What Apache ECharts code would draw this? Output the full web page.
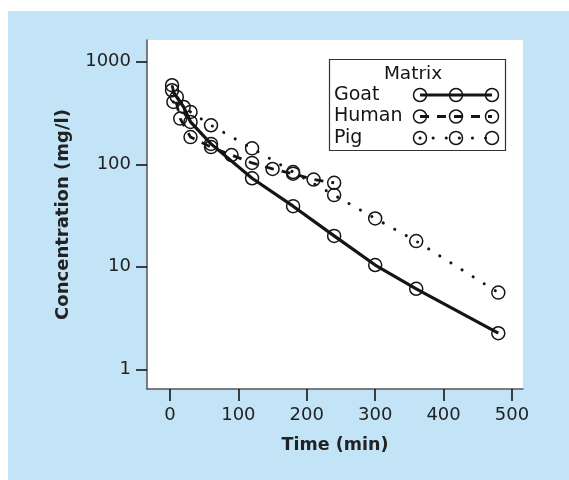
<!DOCTYPE html>
<html><head><meta charset="utf-8">
<script src="https://cdn.jsdelivr.net/npm/echarts@6/dist/echarts.min.js"></script>
<style>html,body{margin:0;padding:0;background:#fff}#c{width:569px;height:480px}</style>
</head><body><div id="c"></div>
<script>
// ---- data ----
const xTicks = [0, 100, 200, 300, 400, 500];
const yTicks = [1, 10, 100, 1000];
const matrixNames = ['Goat', 'Human', 'Pig'];
const goatTime  = [3, 20, 30, 60, 120, 180, 240, 300, 360, 480];
const goatConc  = [527, 362, 259, 158, 73, 39, 20, 10.4, 6.1, 2.25];
const humanTime = [3, 15, 30, 60, 90, 120, 150, 180, 210, 240];
const humanConc = [590, 279, 184, 147, 123, 103, 90, 81, 71, 66];
const pigTime   = [5, 10, 30, 60, 120, 180, 240, 300, 360, 480];
const pigConc   = [405, 454, 324, 240, 143, 84, 50, 29.6, 17.8, 5.6];

const FONT = 'DejaVu Sans';
const INK = '#151515';
const pair = (t, c) => t.map((v, i) => [v, c[i]]);

const lineStyles = [
  { color: INK, width: 3.2, type: 'solid' },
  { color: INK, width: 2.8, type: [9, 8] },
  { color: INK, width: 3, type: [0.1, 13], cap: 'round' }
];
const seriesData = [pair(goatTime, goatConc), pair(humanTime, humanConc), pair(pigTime, pigConc)];

const series = seriesData.map((d, i) => ({
  name: matrixNames[i],
  type: 'line',
  data: d,
  showSymbol: true,
  symbol: 'circle',
  symbolSize: 13,
  itemStyle: { color: 'rgba(0,0,0,0)', borderColor: INK, borderWidth: 1.5 },
  lineStyle: lineStyles[i],
  emphasis: { disabled: true },
  z: 3
}));

// legend drawn as graphics
const legX = [420, 456, 492];
const legY = [95, 116.5, 138];
const legendGraphics = [
  { type: 'rect', shape: { x: 329.5, y: 59.5, width: 176, height: 91 }, style: { fill: '#fff', stroke: '#333', lineWidth: 1.2 }, z: 10 },
  { type: 'text', x: 413, y: 74, style: { text: 'Matrix', font: '18.5px "DejaVu Sans"', fill: INK, align: 'center', verticalAlign: 'middle' }, z: 11 }
];
matrixNames.forEach((n, i) => {
  legendGraphics.push({ type: 'text', x: 334, y: legY[i], style: { text: n, font: '19px "DejaVu Sans"', fill: INK, align: 'left', verticalAlign: 'middle' }, z: 11 });
  const ls = lineStyles[i];
  legendGraphics.push({ type: 'line', shape: { x1: legX[0], y1: legY[i], x2: legX[2], y2: legY[i] },
    style: { stroke: INK, lineWidth: ls.width, lineDash: ls.type === 'solid' ? null : ls.type, lineCap: ls.cap || 'butt' }, z: 11 });
  legX.forEach(x => legendGraphics.push({ type: 'circle', shape: { cx: x, cy: legY[i], r: 6.5 }, style: { fill: null, stroke: INK, lineWidth: 1.5 }, z: 12 }));
});

const chart = echarts.init(document.getElementById('c'), null, { renderer: 'canvas' });
chart.setOption({
  animation: false,
  backgroundColor: '#fff',
  graphic: [
    { type: 'rect', shape: { x: 8, y: 11, width: 561, height: 469 }, style: { fill: '#C3E4F6' }, z: -10, silent: true },
    ...legendGraphics
  ],
  grid: { left: 147, top: 40, right: 46, bottom: 91, show: true, backgroundColor: '#fff', borderWidth: 0, containLabel: false },
  xAxis: {
    type: 'value', min: -33.6, max: 516.1,
    axisLine: { show: true, onZero: false, lineStyle: { color: '#555', width: 1.5 } },
    axisTick: { show: true, length: 12, customValues: xTicks, lineStyle: { color: INK, width: 1.6 } },
    axisLabel: { customValues: xTicks, margin: 17, fontFamily: FONT, fontSize: 18, color: '#222', formatter: v => String(v) },
    splitLine: { show: false },
    name: 'Time (min)', nameLocation: 'middle', nameGap: 47,
    nameTextStyle: { fontFamily: FONT, fontWeight: 'bold', fontSize: 17.5, color: '#222' }
  },
  yAxis: {
    type: 'log', logBase: 10, min: 0.6426, max: 1629,
    axisLine: { show: true, onZero: false, lineStyle: { color: '#555', width: 1.5 } },
    axisTick: { show: true, length: 11, customValues: yTicks, lineStyle: { color: INK, width: 1.6 } },
    axisLabel: { customValues: yTicks, margin: 16, fontFamily: FONT, fontSize: 18, color: '#222', formatter: v => String(Math.round(v)) },
    splitLine: { show: false },
    name: 'Concentration (mg/l)', nameLocation: 'middle', nameGap: 75,
    nameTextStyle: { fontFamily: FONT, fontWeight: 'bold', fontSize: 18, color: '#222' }
  },
  series: series
});
</script>
</body></html>
